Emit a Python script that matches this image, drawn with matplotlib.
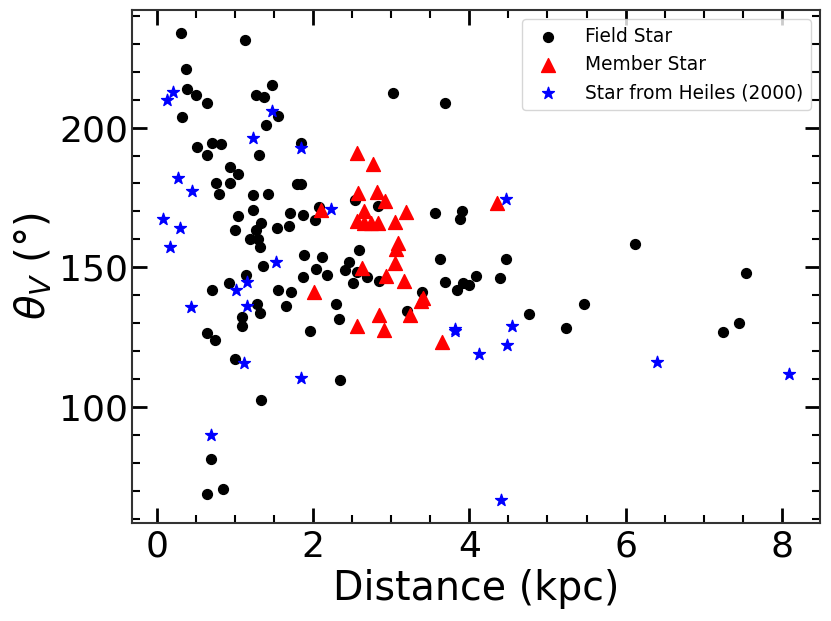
import matplotlib
matplotlib.use("Agg")
import matplotlib.pyplot as plt
from matplotlib.ticker import MultipleLocator

# Field stars
field_dist = [0.316, 1.125, 0.371, 0.392, 0.499, 0.639, 0.320, 1.27, 1.372, 1.479,
              1.551, 1.403, 1.85, 0.52, 0.703, 0.818, 0.639, 1.308, 0.933, 1.044,
              0.754, 0.933, 0.797, 1.236, 1.428, 1.80, 1.84, 1.236, 1.044, 1.705,
              1.871, 2.075, 2.02, 1.339, 1.275, 0.997, 1.535, 1.692, 1.189, 1.296,
              1.317, 1.88, 2.119, 1.36, 2.04, 2.532, 2.592, 2.459, 2.408, 2.183,
              1.147, 0.925, 0.712, 1.87, 1.556, 1.714, 1.279, 1.321, 1.659, 1.096,
              1.087, 2.30, 2.33, 1.957, 0.648, 0.746, 1.001, 2.344, 1.33, 0.69,
              0.648, 0.848, 2.566, 2.685, 2.506, 2.843, 2.835, 3.555, 3.909, 3.887,
              3.623, 4.467, 3.683, 3.845, 3.922, 3.994, 4.088, 4.39, 3.389, 3.206,
              4.761, 3.027, 3.683, 6.12, 5.473, 5.24, 7.54, 7.24, 7.45]
field_theta = [233.8, 231.4, 220.9, 213.7, 211.7, 209.0, 203.9, 211.6, 210.8, 215.3,
               204.2, 200.8, 194.4, 193.2, 194.6, 194.0, 190.2, 190.2, 185.9, 183.5,
               180.0, 180.0, 176.3, 175.7, 176.3, 179.7, 179.7, 170.4, 168.3, 169.3,
               168.7, 171.6, 166.9, 165.9, 163.5, 163.3, 163.9, 164.6, 160.0, 160.0,
               157.2, 154.5, 153.7, 150.3, 149.3, 174.1, 156.0, 152.0, 149.0, 147.4,
               147.1, 144.4, 142.0, 146.6, 141.8, 141.1, 136.7, 133.7, 136.0, 132.1,
               128.9, 136.9, 131.3, 127.3, 126.5, 124.1, 117.0, 109.6, 102.4, 81.5,
               68.8, 70.6, 148.2, 146.6, 144.4, 144.9, 171.9, 169.5, 170.1, 167.1,
               153.0, 153.0, 144.8, 141.8, 144.2, 143.6, 146.8, 146.0, 141.2, 134.5,
               133.3, 212.5, 208.7, 158.4, 136.9, 128.3, 148.0, 126.9, 129.9]

# Member stars
member_dist = [2.557, 2.762, 2.574, 2.822, 2.916, 2.106, 3.184, 2.651, 2.557, 2.651,
               2.737, 2.83, 3.047, 4.357, 3.086, 3.065, 3.047, 2.63, 2.928, 3.167,
               2.01, 3.41, 3.376, 2.85, 3.235, 2.557, 2.906, 3.653]
member_theta = [191.0, 187.0, 176.5, 176.9, 173.8, 170.5, 169.8, 170.1, 166.5, 166.0,
                166.0, 166.0, 166.2, 173.1, 158.8, 156.6, 151.6, 149.8, 146.8, 145.0,
                141.1, 139.1, 137.8, 133.0, 132.8, 129.1, 127.6, 123.3]

# Stars from Heiles (2000)
heiles_dist = [0.209, 0.128, 1.479, 1.236, 1.841, 0.277, 0.456, 0.085, 0.294, 0.17,
               2.234, 1.52, 1.16, 1.01, 0.435, 1.16, 1.116, 1.841, 0.70, 4.467,
               3.811, 3.811, 4.549, 4.476, 4.13, 4.405, 6.40, 8.09]
heiles_theta = [212.8, 209.9, 206.0, 196.4, 192.8, 182.1, 177.3, 167.4, 163.9, 157.1,
                171.0, 151.8, 144.8, 141.8, 135.7, 136.1, 115.8, 110.2, 89.8, 174.3,
                128.0, 127.2, 128.9, 122.0, 119.0, 66.8, 116.0, 111.8]

fig = plt.figure(figsize=(8.31, 6.21), dpi=100)
ax = fig.add_axes([0.159, 0.158, 0.828, 0.826])

ax.scatter(field_dist, field_theta, s=50, c='black', marker='o', label='Field Star', zorder=2)
ax.scatter(member_dist, member_theta, s=100, c='red', marker='^', label='Member Star', zorder=3)
ax.scatter(heiles_dist, heiles_theta, s=80, c='blue', marker='*', label='Star from Heiles (2000)', zorder=4)

ax.xaxis.set_major_locator(MultipleLocator(2))
ax.xaxis.set_minor_locator(MultipleLocator(0.5))
ax.yaxis.set_major_locator(MultipleLocator(50))
ax.yaxis.set_minor_locator(MultipleLocator(10))

ax.tick_params(which='both', direction='in', top=True, right=True)
ax.tick_params(which='major', length=10.8, width=2.0, labelsize=26)
ax.tick_params(axis='x', which='major', pad=5)
ax.tick_params(axis='y', which='major', pad=3)
ax.tick_params(which='minor', length=5.5, width=1.5)
for sp in ax.spines.values():
    sp.set_linewidth(1.5)
    sp.set_color('0.2')

ax.set_xlabel('Distance (kpc)', fontsize=28.5)
ax.set_ylabel(r'$\theta_V$ (°)', fontsize=29)
ax.yaxis.set_label_coords(-0.113, 0.5)

ax.legend(loc='upper right', fontsize=13.4, handletextpad=1.0)

fig.savefig('out.png', dpi=100)
